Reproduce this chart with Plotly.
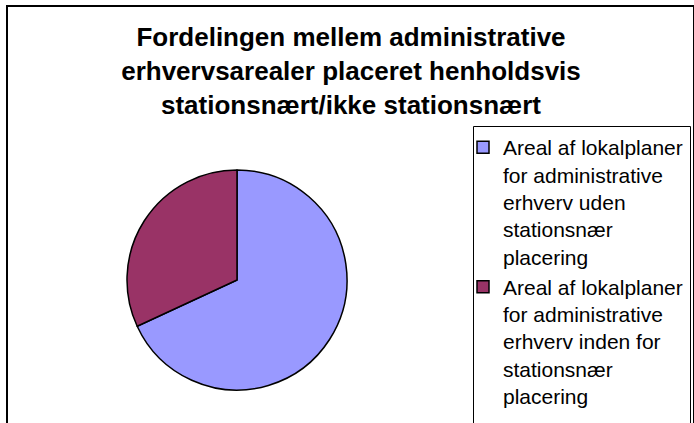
import plotly.graph_objects as go

W, H = 694, 423

labels = [
    "Areal af lokalplaner<br>for administrative<br>erhverv uden<br>stationsnær<br>placering",
    "Areal af lokalplaner<br>for administrative<br>erhverv inden for<br>stationsnær<br>placering",
]
values = [68.1, 31.9]
colors = ["#9999FF", "#993366"]
title_text = "Fordelingen mellem administrative<br>erhvervsarealer placeret henholdsvis<br>stationsnært/ikke stationsnært"

cx, cy, r = 237, 280, 110

fig = go.Figure(go.Pie(
    labels=labels,
    values=values,
    sort=False,
    direction="clockwise",
    rotation=0,
    textinfo="none",
    hoverinfo="label+percent",
    marker=dict(colors=colors, line=dict(color="black", width=1.5)),
    domain=dict(x=[(cx - r) / W, (cx + r) / W], y=[1 - (cy + r) / H, 1 - (cy - r) / H]),
))

fig.update_layout(
    width=W, height=H,
    margin=dict(l=0, r=0, t=0, b=0),
    paper_bgcolor="white",
    plot_bgcolor="white",
    font=dict(family="Liberation Sans, Arial, sans-serif", color="black"),
    title=dict(
        text="<b>" + title_text + "</b>",
        x=351 / W, xanchor="center",
        y=1 - 46 / H, yanchor="top",
        font=dict(size=26, family="Liberation Sans, Arial, sans-serif", color="black"),
    ),
    legend=dict(
        x=463 / W, xanchor="left",
        y=1 - 127 / H, yanchor="top",
        valign="top",
        font=dict(size=21, family="Liberation Sans, Arial, sans-serif", color="black"),
        bgcolor="rgba(0,0,0,0)",
        borderwidth=0,
    ),
    shapes=[
        dict(type="rect", xref="paper", yref="paper",
             x0=7 / W, x1=694 / W, y0=1 - 6 / H, y1=-0.05,
             line=dict(color="black", width=2)),
        dict(type="rect", xref="paper", yref="paper",
             x0=473.5 / W, x1=690.5 / W, y0=1 - 126.5 / H, y1=-0.05,
             line=dict(color="black", width=1)),
    ],
)

fig.write_html("out.html", config={"displayModeBar": False},
               post_script="document.body.style.margin='0';")
